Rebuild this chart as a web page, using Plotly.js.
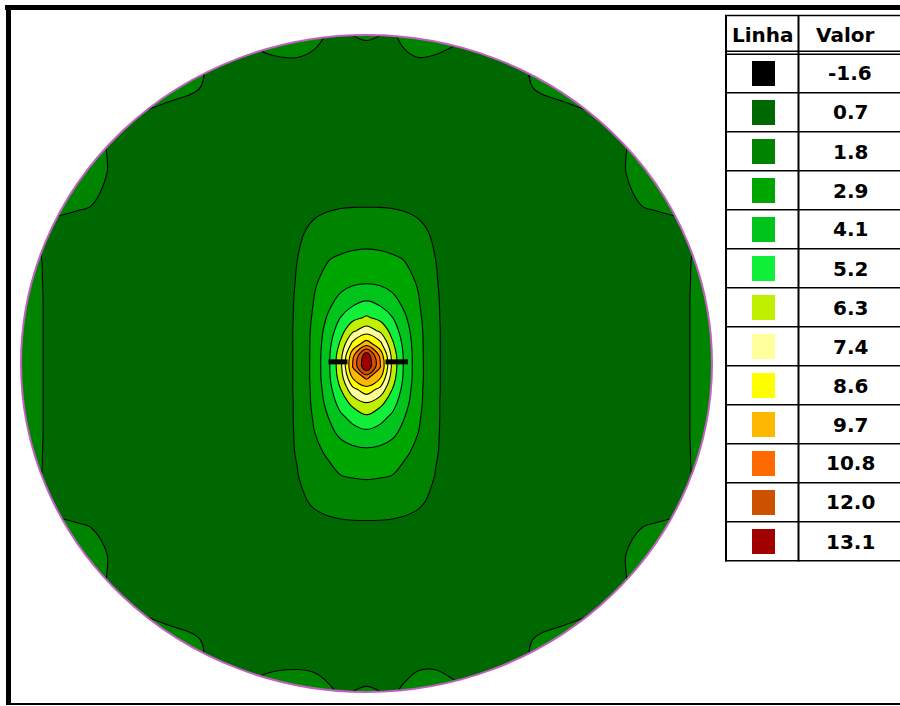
<!DOCTYPE html>
<html>
<head>
<meta charset="utf-8">
<script src="https://cdn.plot.ly/plotly-3.0.1.min.js"></script>
<style>
html,body{margin:0;padding:0;background:#ffffff;}
#chart{width:900px;height:706px;}
</style>
</head>
<body>
<div id="chart"></div>
<script>
// ---------- data ----------
const xs = [-10, -9.3, -8.4, -7.2, -5.8, -4.2, -2.8, -2.0, -1.5, -1.1, -0.75, -0.4, 0, 0.4, 0.75, 1.1, 1.5, 2.0, 2.8, 4.2, 5.8, 7.2, 8.4, 9.3, 10];
const ysTopDown = [10, 9.3, 8.4, 7.2, 5.8, 4.8, 4.0, 3.2, 2.5, 1.9, 1.4, 1.0, 0.6, 0.25, -0.1, -0.45, -0.8, -1.2, -1.6, -2.1, -2.7, -3.4, -4.2, -5.0, -5.8, -7.2, -8.4, -9.3, -10];
const zTopDown = [
 [2.0,2.0,2.0,2.0,2.0,1.7,2.2,2.3,2.1,1.7,1.65,1.8,1.95,1.8,1.65,2.1,2.3,2.2,1.9,1.7,2.0,2.0,2.0,2.0,2.0],
 [2.0,2.0,2.0,2.0,2.0,1.7,1.72,1.78,1.6,1.3,1.25,1.25,1.3,1.25,1.3,1.6,1.78,1.72,1.55,1.7,2.0,2.0,2.0,2.0,2.0],
 [2.0,2.0,2.0,2.0,2.1,1.6,1.25,1.2,1.2,1.18,1.17,1.17,1.17,1.17,1.17,1.18,1.2,1.2,1.25,1.6,2.1,2.0,2.0,2.0,2.0],
 [1.9,1.9,1.9,1.75,1.3,1.2,1.15,1.15,1.15,1.15,1.15,1.15,1.15,1.15,1.15,1.15,1.15,1.15,1.15,1.2,1.3,1.75,1.9,1.9,1.9],
 [2.0,2.0,2.0,1.72,1.3,1.22,1.27,1.3,1.32,1.33,1.34,1.35,1.35,1.35,1.34,1.33,1.32,1.3,1.27,1.22,1.3,1.72,2.0,2.0,2.0],
 [2.0,2.0,1.9,1.6,1.3,1.3,1.4,1.55,1.64,1.7,1.74,1.76,1.76,1.76,1.74,1.7,1.64,1.55,1.4,1.3,1.3,1.6,1.9,2.0,2.0],
 [2.0,1.65,1.35,1.3,1.3,1.33,1.4,1.68,1.95,2.12,2.25,2.32,2.35,2.32,2.25,2.12,1.95,1.68,1.4,1.33,1.3,1.3,1.35,1.65,2.0],
 [2.2,1.72,1.3,1.28,1.3,1.34,1.38,1.79,2.4,2.88,3.05,3.18,3.25,3.18,3.05,2.88,2.4,1.79,1.38,1.34,1.3,1.28,1.3,1.72,2.2],
 [2.3,1.73,1.3,1.28,1.3,1.34,1.36,1.83,2.82,3.25,3.6,3.82,3.9,3.82,3.6,3.25,2.82,1.83,1.36,1.34,1.3,1.28,1.3,1.73,2.3],
 [2.35,1.74,1.3,1.28,1.3,1.34,1.36,1.86,3.0,3.75,4.4,4.85,5.2,4.85,4.4,3.75,3.0,1.86,1.36,1.34,1.3,1.28,1.3,1.74,2.35],
 [2.35,1.74,1.3,1.28,1.3,1.34,1.36,1.87,3.16,4.22,5.2,5.94,6.45,5.94,5.2,4.22,3.16,1.87,1.36,1.34,1.3,1.28,1.3,1.74,2.35],
 [2.35,1.74,1.3,1.28,1.3,1.34,1.36,1.88,3.28,4.55,5.83,7.24,8.0,7.24,5.83,4.55,3.28,1.88,1.36,1.34,1.3,1.28,1.3,1.74,2.35],
 [2.35,1.74,1.3,1.28,1.3,1.34,1.36,1.88,3.32,4.8,6.52,8.88,10.3,8.88,6.52,4.8,3.32,1.88,1.36,1.34,1.3,1.28,1.3,1.74,2.35],
 [2.35,1.74,1.3,1.28,1.3,1.34,1.36,1.88,3.34,4.94,7.03,10.46,14.0,10.46,7.03,4.94,3.34,1.88,1.36,1.34,1.3,1.28,1.3,1.74,2.35],
 [2.35,1.74,1.3,1.28,1.3,1.34,1.36,1.88,3.35,4.95,7.1,10.9,14.2,10.9,7.1,4.95,3.35,1.88,1.36,1.34,1.3,1.28,1.3,1.74,2.35],
 [2.35,1.74,1.3,1.28,1.3,1.34,1.36,1.88,3.35,4.91,6.81,9.7,11.0,9.7,6.81,4.91,3.35,1.88,1.36,1.34,1.3,1.28,1.3,1.74,2.35],
 [2.35,1.74,1.3,1.28,1.3,1.34,1.36,1.88,3.29,4.71,6.27,8.18,9.2,8.18,6.27,4.71,3.29,1.88,1.36,1.34,1.3,1.28,1.3,1.74,2.35],
 [2.35,1.74,1.3,1.28,1.3,1.34,1.36,1.87,3.24,4.45,5.63,6.65,7.4,6.65,5.63,4.45,3.24,1.87,1.36,1.34,1.3,1.28,1.3,1.74,2.35],
 [2.35,1.74,1.3,1.28,1.3,1.34,1.36,1.87,3.1,4.1,5.0,5.6,6.2,5.6,5.0,4.1,3.1,1.87,1.36,1.34,1.3,1.28,1.3,1.74,2.35],
 [2.35,1.74,1.3,1.28,1.3,1.34,1.36,1.86,2.92,3.67,4.35,4.75,4.95,4.75,4.35,3.67,2.92,1.86,1.36,1.34,1.3,1.28,1.3,1.74,2.35],
 [2.3,1.73,1.3,1.28,1.3,1.34,1.36,1.84,2.66,3.1,3.45,3.7,3.8,3.7,3.45,3.1,2.66,1.84,1.36,1.34,1.3,1.28,1.3,1.73,2.3],
 [2.2,1.72,1.3,1.28,1.3,1.34,1.38,1.77,2.22,2.6,2.92,3.0,3.05,3.0,2.92,2.6,2.22,1.77,1.38,1.34,1.3,1.28,1.3,1.72,2.2],
 [2.0,1.65,1.35,1.3,1.3,1.33,1.38,1.63,1.9,2.07,2.2,2.27,2.3,2.27,2.2,2.07,1.9,1.63,1.38,1.33,1.3,1.3,1.35,1.65,2.0],
 [2.0,2.0,1.9,1.6,1.3,1.3,1.36,1.47,1.53,1.57,1.59,1.6,1.6,1.6,1.59,1.57,1.53,1.47,1.36,1.3,1.3,1.6,1.9,2.0,2.0],
 [2.0,2.0,2.0,1.72,1.3,1.22,1.27,1.3,1.32,1.33,1.34,1.35,1.35,1.35,1.34,1.33,1.32,1.3,1.27,1.22,1.3,1.72,2.0,2.0,2.0],
 [1.9,1.9,1.9,1.75,1.3,1.2,1.15,1.15,1.15,1.15,1.15,1.15,1.15,1.15,1.15,1.15,1.15,1.15,1.15,1.2,1.3,1.75,1.9,1.9,1.9],
 [2.0,2.0,2.0,2.0,2.1,1.6,1.25,1.2,1.2,1.18,1.17,1.17,1.17,1.17,1.17,1.18,1.2,1.2,1.25,1.6,2.1,2.0,2.0,2.0,2.0],
 [2.0,2.0,2.0,2.0,2.0,1.7,1.72,1.78,1.7,1.45,1.25,1.25,1.3,1.25,1.25,1.5,1.75,1.78,1.55,1.7,2.0,2.0,2.0,2.0,2.0],
 [2.0,2.0,2.0,2.0,2.0,1.7,2.2,2.3,2.25,2.0,1.65,1.8,1.95,1.8,1.65,2.0,2.3,2.2,1.9,1.7,2.0,2.0,2.0,2.0,2.0]
];
const niveis = ['-1.6','0.7','1.8','2.9','4.1','5.2','6.3','7.4','8.6','9.7','10.8','12.0','13.1'];
const coresNiveis = ['#000000','#006800','#008400','#00a600','#00c41c','#10f038','#c0f000','#ffff9c','#ffff00','#ffb800','#ff6a00','#cc5200','#a00000'];
const eletrodoX = [-1.1, -0.55, null, 0.55, 1.2];
const eletrodoY = [0.05, 0.05, null, 0.05, 0.05];

// ---------- geometry (layout only) ----------
const W = 900, H = 706, mL = 16, mR = 183, mT = 30, mB = 9;
const pw = W - mL - mR, ph = H - mT - mB;
const PX = v => (v - mL) / pw;
const PY = v => (H - mB - v) / ph;

const ys = ysTopDown.slice().reverse();
const z = zTopDown.slice().reverse();

const cStart = -1.6, cEnd = 13.1, cSize = (13.1 + 1.6) / 13;
const nLev = 14;
const bandColors = ['#000000', coresNiveis[0], '#004000'].concat(coresNiveis.slice(1));
const colorscale = bandColors.map((c, k) => [k / nLev, c]);

const traces = [
  {
    type: 'contour', x: xs, y: ys, z: z,
    autocontour: false,
    contours: {start: cStart, end: cEnd, size: cSize, coloring: 'fill', showlines: true},
    colorscale: colorscale, showscale: false,
    line: {color: '#000000', width: 1.1, smoothing: 1},
    hoverinfo: 'skip'
  },
  {
    type: 'scatter', mode: 'lines', x: eletrodoX, y: eletrodoY,
    line: {color: '#000000', width: 5}, hoverinfo: 'skip', showlegend: false
  }
];

const k = 5.523;
const maskPath = `M -10 0 C -10 ${k} -${k} 10 0 10 C ${k} 10 10 ${k} 10 0 C 10 -${k} ${k} -10 0 -10 C -${k} -10 -10 -${k} -10 0 Z M -12 -12 L 12 -12 L 12 12 L -12 12 Z`;

const shapes = [
  {type: 'path', xref: 'x', yref: 'y', path: maskPath, fillcolor: '#ffffff', fillrule: 'evenodd', line: {width: 0}, layer: 'above'},
  {type: 'circle', xref: 'x', yref: 'y', x0: -10, x1: 10, y0: -10, y1: 10, line: {color: '#c060c0', width: 2}, layer: 'above'}
];
function rectPx(x0, y0, x1, y1, color) {
  shapes.push({type: 'rect', xref: 'paper', yref: 'paper', x0: PX(x0), x1: PX(x1), y0: PY(y1), y1: PY(y0),
    fillcolor: color, line: {width: 0}, layer: 'above'});
}
// frame
rectPx(5, 5, 900, 10, '#000000');
rectPx(6, 5, 11, 704, '#000000');
rectPx(6, 703, 900, 705, '#000000');

// legend table
const tL = 726, tDiv = 798.5, tR = 905, tTop = 15.5, rowH = 39, firstRowTop = 53.5;
const tBottom = firstRowTop + rowH * niveis.length;
rectPx(tL - 1, tTop - 0.8, tR, tTop + 0.8, '#000000');
rectPx(tL - 1, tTop, tL + 1, tBottom + 1, '#000000');
rectPx(tDiv - 1, tTop, tDiv + 1, tBottom + 1, '#000000');
rectPx(tL - 1, 50.5, tR, 52, '#000000');
rectPx(tL - 1, 53.5, tR, 55, '#000000');
const annotations = [];
const fnt = {family: 'DejaVu Sans, Verdana, sans-serif', size: 20, color: '#000000'};
annotations.push({xref: 'paper', yref: 'paper', x: PX(762.5), y: PY(35), text: '<b>Linha</b>', showarrow: false, xanchor: 'center', yanchor: 'middle', font: fnt});
annotations.push({xref: 'paper', yref: 'paper', x: PX(845), y: PY(35), text: '<b>Valor</b>', showarrow: false, xanchor: 'center', yanchor: 'middle', font: fnt});
niveis.forEach((v, i) => {
  const top = firstRowTop + rowH * i;
  const cy = top + rowH / 2 + 0.5;
  rectPx(tL - 1, top + rowH - 0.5, tR, top + rowH + 1, '#000000');
  rectPx(752, cy - 12.5, 775, cy + 12.5, coresNiveis[i]);
  annotations.push({xref: 'paper', yref: 'paper', x: PX(850), y: PY(cy), text: '<b>' + v + '</b>', showarrow: false, xanchor: 'center', yanchor: 'middle', font: fnt});
});

const layout = {
  width: W, height: H,
  margin: {l: mL, r: mR, t: mT, b: mB, pad: 0},
  paper_bgcolor: '#ffffff', plot_bgcolor: '#ffffff',
  xaxis: {range: [-pw / 2 / 34.55, pw / 2 / 34.55], visible: false, fixedrange: true},
  yaxis: {range: [-ph / 2 / 32.85, ph / 2 / 32.85], visible: false, fixedrange: true},
  showlegend: false,
  shapes: shapes,
  annotations: annotations
};

Plotly.newPlot('chart', traces, layout, {displayModeBar: false, staticPlot: true});
</script>
</body>
</html>
